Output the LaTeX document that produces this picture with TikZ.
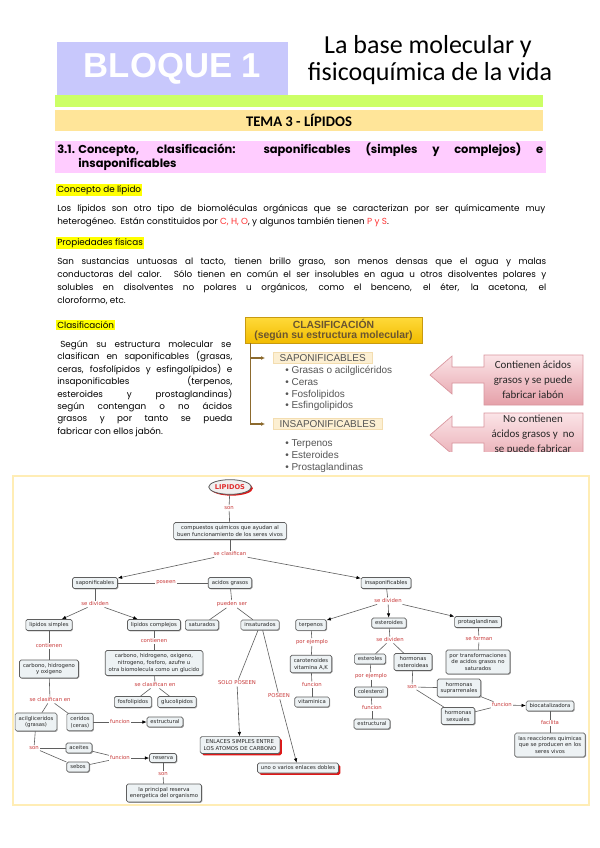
\documentclass[tikz,border=0pt]{standalone}
\usepackage{fontspec}
\setmainfont{Liberation Sans}
\newfontfamily\fPop{Poppins}
\newfontfamily\fCal{Carlito}
\newfontfamily\fDv{DejaVu Sans}
\newfontfamily\fLib{Liberation Sans}
\usetikzlibrary{arrows.meta,shadows,shapes.geometric}
\definecolor{bloq}{HTML}{C8C8FC}
\definecolor{verde}{HTML}{CCFF66}
\definecolor{tema}{HTML}{FFE599}
\definecolor{rosa}{HTML}{FFCCFF}
\definecolor{amar}{HTML}{FFFF00}
\definecolor{rojo}{HTML}{FF3333}
\definecolor{oro1}{HTML}{FFDA3A}
\definecolor{oro2}{HTML}{F2BC00}
\definecolor{oro3}{HTML}{C89A10}
\definecolor{oro4}{HTML}{B08010}
\definecolor{clstx}{HTML}{6A5530}
\definecolor{cafe}{HTML}{8C6A2E}
\definecolor{beige}{HTML}{FCEFD2}
\definecolor{beige2}{HTML}{F3DDB0}
\definecolor{itgray}{HTML}{555555}
\definecolor{rosa1}{HTML}{FBE4E7}
\definecolor{rosa2}{HTML}{E5A0A9}
\definecolor{rosa3}{HTML}{D9959E}
\definecolor{borde}{HTML}{FFEDB5}
\definecolor{mfill}{HTML}{EDF2F4}
\definecolor{mline}{HTML}{5F5F5F}
\definecolor{mred}{HTML}{C83A3A}
\definecolor{shred}{HTML}{E01818}
\definecolor{lipred}{HTML}{E03030}
\newcommand\fBody{\fPop\fontsize{6.6}{8}\selectfont}
\newcommand\fHead{\fPop\bfseries\fontsize{8.6}{10}\selectfont}
\newcommand\fMap{\fDv\fontsize{4}{5.2}\selectfont}
\begin{document}
\begin{tikzpicture}[x=0.75pt,y=-0.75pt,
  mbase/.style={draw=mline, fill=mfill, rounded corners=1.2pt, line width=0.5pt, font=\fMap, text=black!85, inner xsep=2.6pt, inner ysep=2.2pt, align=center},
  mb/.style={mbase, drop shadow={shadow xshift=0.6pt, shadow yshift=-0.6pt, fill=black, opacity=0.35}},
  rb/.style={mbase, drop shadow={shadow xshift=1.4pt, shadow yshift=-1.4pt, fill=shred, opacity=1}},
  lb/.style={font=\fMap, text=mred, inner sep=0.8pt},
  ln/.style={draw=mline, line width=0.45pt},
  ar/.style={ln, -{Latex[length=3.2pt,width=2.6pt,color=black]}},
  tl/.style={anchor=base west, inner sep=0, font=\fBody},
  hl/.style={anchor=west, fill=amar, inner xsep=0.8pt, inner ysep=0.8pt, font=\fBody},
  it/.style={anchor=base west, inner sep=0, font={\fLib\fontsize{7.5}{9}\selectfont}, text=itgray},
  lab/.style={anchor=west, fill=beige, draw=beige2, line width=0.4pt, inner xsep=4.8pt, inner ysep=1.4pt, font={\fLib\fontsize{7.5}{9}\selectfont}, text=itgray},
  ctx/.style={align=center, inner sep=0, font={\fCal\fontsize{8.2}{11.25}\selectfont}, text=black!85},
  cbody/.style={top color=rosa1, bottom color=rosa2, draw=rosa3, line width=0.5pt}
]
\useasboundingbox (0,0) rectangle (599,848);
\fill[white] (0,0) rectangle (599,848);

% ---------- header ----------
\fill[verde] (55,95) rectangle (543,107);
\node[fill=bloq, minimum width=173.25pt, minimum height=39.75pt, inner sep=0, font={\fLib\bfseries\fontsize{26}{26}\selectfont}, text=white] (bloque) at (172.5,68.5) {BLOQUE 1};
\node[inner sep=0, font={\fCal\fontsize{19.5}{21}\selectfont}] (tit1) at (428,47) {La base molecular y};
\node[inner sep=0, font={\fCal\fontsize{19.5}{21}\selectfont}] (tit2) at (430,74) {fisicoquímica de la vida};
\node[fill=tema, minimum width=366pt, minimum height=15.75pt, inner sep=0, font={\fCal\bfseries\fontsize{11}{13}\selectfont}] (tema) at (299,120.5) {TEMA 3 - LÍPIDOS};

% ---------- section heading ----------
\fill[rosa] (55,141) rectangle (546,173);
\node[tl, font=\fHead] (h1a) at (57,154) {3.1.};
\node[tl, font=\fHead] (h1b) at (78,154) {\makebox[348.75pt][s]{Concepto, clasificación: saponificables (simples y complejos) e}};
\node[tl, font=\fHead] (h2) at (78,168) {insaponificables};

% ---------- concepto ----------
\node[hl] (cl1) at (56,190) {Concepto de lípido};
\node[tl] (p1a) at (57,211.5) {\makebox[366pt][s]{Los lípidos son otro tipo de biomoléculas orgánicas que se caracterizan por ser químicamente muy}};
\node[tl] (p1b) at (57,224.5) {heterogéneo.\ \ Están constituidos por \textcolor{rojo}{C, H, O}, y algunos también tienen \textcolor{rojo}{P y S}.};

% ---------- propiedades ----------
\node[hl] (cl2) at (56,243) {Propiedades físicas};
\node[tl] (p2a) at (57,264.5) {\makebox[366.75pt][s]{San sustancias untuosas al tacto, tienen brillo graso, son menos densas que el agua y malas}};
\node[tl] (p2b) at (57,277.5) {\makebox[366.75pt][s]{conductoras del calor. Sólo tienen en común el ser insolubles en agua u otros disolventes polares y}};
\node[tl] (p2c) at (57,290.5) {\makebox[366.75pt][s]{solubles en disolventes no polares u orgánicos, como el benceno, el éter, la acetona, el}};
\node[tl] (p2d) at (57,303.5) {cloroformo, etc.};

% ---------- clasificacion text ----------
\node[hl] (cl3) at (56,325) {Clasificación};
\node[tl] (q1) at (60,347.5) {\makebox[128.25pt][s]{Según su estructura molecular se}};
\node[tl] (q2) at (57,359.9) {\makebox[131.25pt][s]{clasifican en saponificables (grasas,}};
\node[tl] (q3) at (57,372.3) {\makebox[131.25pt][s]{ceras, fosfolípidos y esfingolípidos) e}};
\node[tl] (q4) at (57,384.7) {\makebox[131.25pt][s]{insaponificables (terpenos,}};
\node[tl] (q5) at (57,397.1) {\makebox[131.25pt][s]{esteroides y prostaglandinas)}};
\node[tl] (q6) at (57,409.5) {\makebox[131.25pt][s]{según contengan o no ácidos}};
\node[tl] (q7) at (57,421.9) {\makebox[131.25pt][s]{grasos y por tanto se pueda}};
\node[tl] (q8) at (57,434.3) {fabricar con ellos jabón.};

% ---------- clasificacion scheme ----------
\node[draw=oro3, line width=0.6pt, top color=oro1, bottom color=oro2, minimum width=132.75pt, minimum height=19.5pt, inner sep=0, align=center, font={\fLib\bfseries\fontsize{7.8}{7.4}\selectfont}, text=clstx, drop shadow={shadow xshift=0.9pt, shadow yshift=-0.9pt, fill=oro4, opacity=1}] (clas) at (333.5,330) {CLASIFICACIÓN\\(según su estructura molecular)};
\node[lab] (sap) at (273,358) {SAPONIFICABLES};
\node[lab] (insap) at (273,424) {INSAPONIFICABLES};
\draw[cafe, line width=0.9pt, -{Latex[length=3pt,width=3pt]}, shorten >=6pt] ([xshift=4.5pt]clas.south west) |- (sap.west);
\draw[cafe, line width=0.9pt, -{Latex[length=3pt,width=3pt]}, shorten >=6pt] ([xshift=4.5pt]clas.south west) |- (insap.west);
\node[it] (s1) at (285,373) {• Grasas o acilglicéridos};
\node[it] (s2) at (285,385) {• Ceras};
\node[it] (s3) at (285,397) {• Fosfolipidos};
\node[it] (s4) at (285,408.5) {• Esfingolipidos};
\node[it] (i1) at (285,446) {• Terpenos};
\node[it] (i2) at (285,458) {• Esteroides};
\node[it] (i3) at (285,470) {• Prostaglandinas};

% ---------- pink callouts ----------
\path[cbody] (583,355) -- (484,355) -- (484,367) -- (452,367) -- (452,356) -- (430,375) -- (452,394) -- (452,383) -- (484,383) -- (484,405) -- (583,405) -- cycle;
\node[ctx] (c1) at (533,380) {Contienen ácidos\\grasos y se puede\\fabricar iabón};
\begin{scope}
\clip (420,405) rectangle (595,451);
\path[cbody] (583,413) -- (484,413) -- (484,427) -- (452,427) -- (452,416) -- (430,435) -- (452,454) -- (452,443) -- (484,443) -- (484,470) -- (583,470) -- cycle;
\node[ctx] (c2) at (533,435) {No contienen\\ácidos grasos y\ \ no\\se puede fabricar};
\end{scope}

% ---------- concept map ----------
\draw[borde, line width=1.5pt] (13,476) rectangle (589,805);

\node[ellipse, draw=gray!70!black, fill=gray!12, line width=0.6pt, minimum width=30pt, minimum height=11pt, inner sep=0, font={\fDv\bfseries\fontsize{5}{6}\selectfont}, text=lipred, drop shadow={shadow xshift=1.2pt, shadow yshift=-1pt, fill=shred, opacity=1}] (lip) at (230,487) {LIPIDOS};
\node[lb] (son0) at (229,508) {son};
\node[mb] (comp) at (230,531) {compuestos quimicos que ayudan al\\buen funcionamiento de los seres vivos};
\node[lb] (seclas) at (230,554) {se clasifican};
\node[mb] (sapon) at (95,583) {saponificables};
\node[lb] (poseen) at (166,583) {poseen};
\node[mb] (acidos) at (230,583) {acidos grasos};
\node[mb] (insapon) at (386,583) {insaponificables};
\node[lb] (sediv1) at (95,604) {se dividen};
\node[lb] (puedenser) at (232,604) {pueden ser};
\node[lb] (sediv2) at (388,601) {se dividen};
\node[mb] (lsimp) at (49,625) {lipidos simples};
\node[mb] (lcomp) at (154,625) {lipidos complejos};
\node[mb] (satur) at (202,625) {saturados};
\node[mb] (insatur) at (260,625) {insaturados};
\node[mb] (terp) at (311,625) {terpenos};
\node[mb] (ester) at (389,623) {esteroides};
\node[mb] (protag) at (478,622) {protaglandinas};
\node[lb] (cont1) at (49,646) {contienen};
\node[lb] (cont2) at (154,641) {contienen};
\node[lb] (porej1) at (312,642) {por ejemplo};
\node[lb] (sediv3) at (390,640) {se dividen};
\node[lb] (seform) at (479,639) {se forman};
\node[mb] (carb1) at (49,669) {carbono, hidrogeno\\y oxigeno};
\node[mb] (carb2) at (154,663) {carbono, hidrogeno, oxigeno,\\nitrogeno, fosforo, azufre u\\otra biomolecula como un glucido};
\node[mb] (carot) at (311,664) {carotenoides\\vitamina A,K};
\node[mb] (esterol) at (370,659) {esteroles};
\node[mb] (hormest) at (413,662) {hormonas\\esteroideas};
\node[mb] (portrans) at (478,662) {por transformaciones\\de acidos grasos no\\saturados};
\node[lb] (seclasen2) at (155,685) {se clasifican en};
\node[lb] (funcion3) at (312,685) {funcion};
\node[lb] (porej2) at (371,676) {por ejemplo};
\node[lb] (son3) at (412,687) {son};
\node[mb] (suprar) at (459,688) {hormonas\\suprarrenales};
\node[mb] (colest) at (371,692) {colesterol};
\node[lb] (seclasen1) at (50,700) {se clasifican en};
\node[mb] (fosfo) at (133,702) {fosfolipidos};
\node[mb] (gluco) at (177,702) {glucolipidos};
\node[mb] (vitam) at (312,702) {vitaminica};
\node[mb] (sexual) at (458,716) {hormonas\\sexuales};
\node[lb] (funcion5) at (502,705) {funcion};
\node[mb] (biocat) at (550,706) {biocatalizadora};
\node[lb] (funcion4) at (372,708) {funcion};
\node[lb] (soloposeen) at (237,683) {SOLO POSEEN};
\node[lb] (poseen2) at (279,696) {POSEEN};
\node[mb] (acil) at (36,722) {acilgliceridos\\(grasas)};
\node[mb] (cerid) at (80,722) {ceridos\\(ceras)};
\node[lb] (funcion1) at (120,722) {funcion};
\node[mb] (estr1) at (165,722) {estructural};
\node[mb] (estr2) at (372,724) {estructural};
\node[lb] (facilita) at (550,723) {facilita};
\node[mb] (reacc) at (550,745) {las reacciones quimicas\\que se producen en los\\seres vivos};
\node[rb] (enlaces) at (240,745) {ENLACES SIMPLES ENTRE\\LOS ATOMOS DE CARBONO};
\node[lb] (son1) at (34,748) {son};
\node[mb] (aceites) at (79,748) {aceites};
\node[mb] (sebos) at (78,767) {sebos};
\node[lb] (funcion2) at (120,758) {funcion};
\node[mb] (reserva) at (163,758) {reserva};
\node[rb] (uno) at (298,768) {uno o varios enlaces dobles};
\node[lb] (son2) at (163,774) {son};
\node[mb] (princ) at (164,793) {la principal reserva\\energetica del organismo};

% connectors
\draw[ln] (lip) -- (son0);
\draw[ln] (son0) -- (comp);
\draw[ln] (comp) -- (seclas);
\draw[ar] (seclas) -- (sapon);
\draw[ar] (seclas) -- (insapon);
\draw[ln] (sapon) -- (poseen);
\draw[ln] (poseen) -- (acidos);
\draw[ln] (sapon) -- (sediv1);
\draw[ar] (sediv1) -- (lsimp);
\draw[ar] (sediv1) -- (lcomp);
\draw[ln] (acidos) -- (puedenser);
\draw[ln] (puedenser) -- (satur);
\draw[ln] (puedenser) -- (insatur);
\draw[ln] ([xshift=-1.5pt]insatur.south) -- (soloposeen);
\draw[ar] (soloposeen) -- (enlaces);
\draw[ln] ([xshift=2pt]insatur.south) -- (poseen2);
\draw[ar] (poseen2) -- (uno);
\draw[ln] (insapon) -- (sediv2);
\draw[ar] (sediv2) -- (terp);
\draw[ar] (sediv2) -- (ester);
\draw[ar] (sediv2) -- (protag);
\draw[ln] (terp) -- (porej1);
\draw[ln] (porej1) -- (carot);
\draw[ln] (carot) -- (funcion3);
\draw[ln] (funcion3) -- (vitam);
\draw[ln] (ester) -- (sediv3);
\draw[ln] (sediv3) -- (esterol);
\draw[ln] (sediv3) -- (hormest);
\draw[ln] (esterol) -- (porej2);
\draw[ln] (porej2) -- (colest);
\draw[ln] (colest) -- (funcion4);
\draw[ln] (funcion4) -- (estr2);
\draw[ln] (hormest) -- (son3);
\draw[ln] (son3) -- (suprar);
\draw[ln] (son3) -- (sexual);
\draw[ln] (suprar) -- (funcion5);
\draw[ln] (sexual) -- (funcion5);
\draw[ar] (funcion5) -- (biocat);
\draw[ln] (biocat) -- (facilita);
\draw[ln] (facilita) -- (reacc);
\draw[ln] (protag) -- (seform);
\draw[ln] (seform) -- (portrans);
\draw[ln] (lsimp) -- (cont1);
\draw[ln] (cont1) -- (carb1);
\draw[ln] (carb1) -- (seclasen1);
\draw[ln] (seclasen1) -- (acil);
\draw[ln] (seclasen1) -- (cerid);
\draw[ln] (lcomp) -- (cont2);
\draw[ln] (cont2) -- (carb2);
\draw[ln] (carb2) -- (seclasen2);
\draw[ln] (seclasen2) -- (fosfo);
\draw[ln] (seclasen2) -- (gluco);
\draw[ln] (cerid) -- (funcion1);
\draw[ar] (funcion1) -- (estr1);
\draw[ln] (acil) -- (son1);
\draw[ln] (son1) -- (aceites);
\draw[ln] (son1) -- (sebos);
\draw[ln] (aceites) -- (funcion2);
\draw[ln] (sebos) -- (funcion2);
\draw[ar] (funcion2) -- (reserva);
\draw[ln] (reserva) -- (son2);
\draw[ln] (son2) -- (princ);
\end{tikzpicture}
\end{document}
